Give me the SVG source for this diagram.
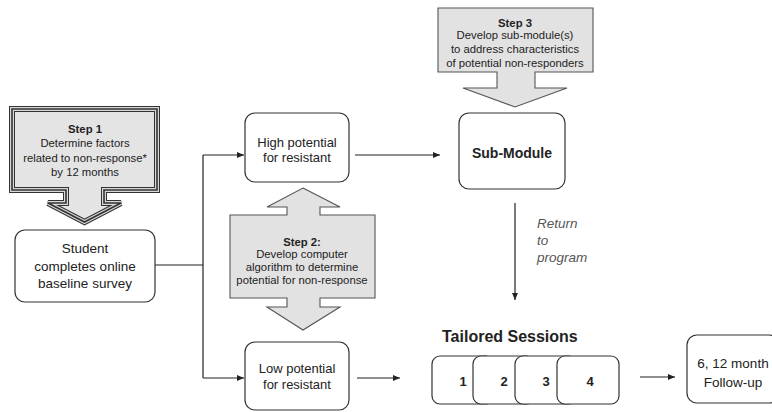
<svg xmlns="http://www.w3.org/2000/svg" width="772" height="412" viewBox="0 0 772 412">
<defs>
<style>
text{font-family:"Liberation Sans",Arial,sans-serif;fill:#222;text-anchor:middle}
.node{fill:#fff;stroke:#333;stroke-width:1.2}
.big{fill:#e2e2e2;stroke:#555;stroke-width:1.1}
.c{fill:none;stroke:#222;stroke-width:1.2}
.t13{font-size:13px}
.t11{font-size:11.3px}
.b{font-weight:bold}
.it{font-style:italic;fill:#555;text-anchor:start;font-size:13.5px}
</style>
<marker id="ah" markerWidth="8" markerHeight="8" refX="7" refY="4" orient="auto" markerUnits="userSpaceOnUse">
<path d="M0,1 L7,4 L0,7 Z" fill="#222"/>
</marker>
</defs>
<rect width="772" height="412" fill="#fff"/>

<g id="connectors">
<path class="c" d="M155,265 H203"/>
<path class="c" d="M203,155 V378"/>
<path class="c" d="M203,155 H244" marker-end="url(#ah)"/>
<path class="c" d="M203,378 H244" marker-end="url(#ah)"/>
<path class="c" d="M355,155 H440" marker-end="url(#ah)"/>
<path class="c" d="M515,203 V300" marker-end="url(#ah)"/>
<path class="c" d="M357,378 H400" marker-end="url(#ah)"/>
<path class="c" d="M640,377 H675" marker-end="url(#ah)"/>
</g>

<g id="step1">
<path d="M12,109 H157 V190 H104 V203 H121 L84.5,222 L48,203 H66 V190 H12 Z" fill="#e4e4e4"/>
<path d="M12,109 H157 V190 H104 V203 H121 L84.5,222 L48,203 H66 V190 H12 Z" fill="none" stroke="#333" stroke-width="6" stroke-linejoin="miter"/>
<path d="M12,109 H157 V190 H104 V203 H121 L84.5,222 L48,203 H66 V190 H12 Z" fill="none" stroke="#d8d8d8" stroke-width="4"/>
<path d="M12,109 H157 V190 H104 V203 H121 L84.5,222 L48,203 H66 V190 H12 Z" fill="none" stroke="#333" stroke-width="1.6"/>
<text x="85" y="133" class="t11 b">Step 1</text>
<text x="85" y="147" class="t11">Determine factors</text>
<text x="85" y="162" class="t11">related to non-response*</text>
<text x="85" y="176" class="t11">by 12 months</text>
</g>

<g id="student">
<rect class="node" x="15" y="230" width="140" height="72" rx="10"/>
<text x="85" y="253" font-size="13.5">Student</text>
<text x="85" y="271" font-size="13.5">completes online</text>
<text x="85" y="288" font-size="13.5">baseline survey</text>
</g>

<g id="high">
<rect class="node" x="245" y="113" width="104" height="69" rx="10"/>
<text x="297" y="147" class="t13">High potential</text>
<text x="297" y="162" class="t13">for resistant</text>
</g>

<g id="step2">
<path class="big" d="M303,188 L340,207 H320 V215 H375 V298 H320 V307 H340 L303,330 L267,307 H287 V298 H230 V215 H287 V207 H267 Z"/>
<text x="302" y="246" class="t11 b">Step 2:</text>
<text x="302" y="258" class="t11">Develop computer</text>
<text x="302" y="271" class="t11">algorithm to determine</text>
<text x="302" y="284" class="t11">potential for non-response</text>
</g>

<g id="low">
<rect class="node" x="245" y="342" width="104" height="68" rx="10"/>
<text x="297" y="373" class="t13">Low potential</text>
<text x="297" y="389" class="t13">for resistant</text>
</g>

<g id="step3">
<path class="big" d="M438,8 H593 V72 H535 V88 H567 L515,107 L463,88 H497 V72 H438 Z"/>
<text x="515" y="27" class="t11 b">Step 3</text>
<text x="515" y="39" class="t11">Develop sub-module(s)</text>
<text x="515" y="53" class="t11">to address characteristics</text>
<text x="515" y="67" class="t11">of potential non-responders</text>
</g>

<g id="submodule">
<rect class="node" x="459" y="113" width="106" height="76" rx="10"/>
<text x="512" y="158" font-size="14" class="b">Sub-Module</text>
</g>

<g id="return-label">
<text x="537" y="228" class="it">Return</text>
<text x="537" y="245" class="it">to</text>
<text x="537" y="262" class="it">program</text>
</g>

<g id="sessions">
<text x="442" y="342" font-size="16" class="b" style="text-anchor:start">Tailored Sessions</text>
<rect class="node" x="432" y="356" width="62" height="48" rx="8"/>
<rect class="node" x="473" y="356" width="62" height="48" rx="8"/>
<rect class="node" x="515" y="356" width="62" height="48" rx="8"/>
<rect class="node" x="557" y="356" width="62" height="48" rx="8"/>
<text x="463" y="386" font-size="13" class="b">1</text>
<text x="504" y="386" font-size="13" class="b">2</text>
<text x="546" y="386" font-size="13" class="b">3</text>
<text x="590" y="386" font-size="13" class="b">4</text>
</g>

<g id="followup">
<rect class="node" x="687" y="335" width="92" height="68" rx="10"/>
<text x="733" y="368" font-size="13.5">6, 12 month</text>
<text x="733" y="387" font-size="13.5">Follow-up</text>
</g>
</svg>
